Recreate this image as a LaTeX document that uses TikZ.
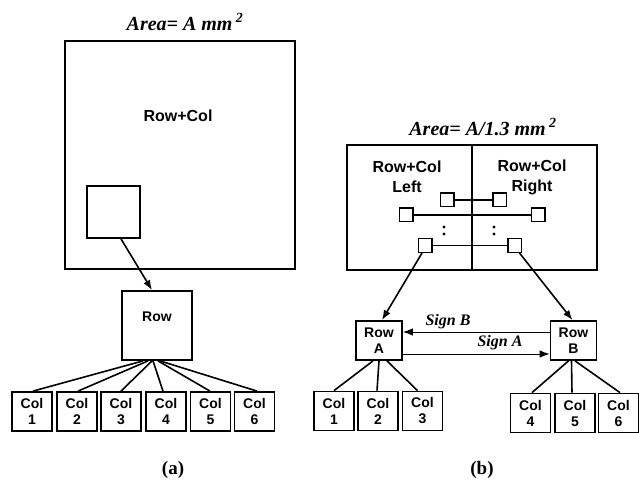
\documentclass[tikz,border=0pt]{standalone}
\usepackage{fontspec}
\setmainfont{Liberation Sans}
\newfontfamily\timesf{Liberation Serif}
\usetikzlibrary{arrows.meta,calc}
\begin{document}
\begin{tikzpicture}[x=1bp,y=-1bp,
  box/.style={draw,line width=1.8bp,inner sep=0pt,align=center,font=\bfseries\fontsize{14bp}{16bp}\selectfont},
  sq/.style={draw,line width=1.5bp,inner sep=0pt,minimum width=13.5bp,minimum height=13.5bp},
  colbox/.style={box,minimum width=40bp,minimum height=39bp},
  conn/.style={line width=1.6bp},
  arr/.style={line width=1.6bp,-{Latex[length=10bp,width=7.5bp]}},
  sig/.style={line width=1bp,-{Latex[length=10bp,width=7.5bp]}},
  big/.style={font=\bfseries\fontsize{16bp}{20bp}\selectfont,align=center,inner sep=0pt},
  ttl/.style={font=\timesf\bfseries\itshape\fontsize{20bp}{24bp}\selectfont,inner sep=0pt},
  sgn/.style={font=\timesf\bfseries\itshape\fontsize{16bp}{18bp}\selectfont,inner sep=0pt},
  captxt/.style={font=\timesf\bfseries\fontsize{19bp}{22bp}\selectfont,inner sep=0pt}]
\useasboundingbox (0,0) rectangle (639,480);

% ---------- (a) ----------
\node[ttl] (ta) at (185,22) {Area= A mm\,\raisebox{1bp}{\textsuperscript{2}}};
\node[box,minimum width=230bp,minimum height=228bp] (biga) at (180,155) {};
\node[big] (rca) at (178,116) {Row+Col};
\node[box,minimum width=53bp,minimum height=52bp] (smalla) at (113.5,212) {};
\node[box,minimum width=70bp,minimum height=69bp] (rowa) at (157,325.5) {};
\node[big,font=\bfseries\fontsize{14bp}{16bp}\selectfont] (rowatxt) at (157,317) {Row};
\foreach \i/\cx in {1/32,2/77,3/121,4/166,5/210.5,6/254.5}{
  \node[colbox] (ca\i) at (\cx,411.5) {Col\\\i};
}
\draw[arr] ([xshift=7.5bp]smalla.south) -- ([xshift=-5bp]rowa.north);
\foreach \i/\dx/\ex in {1/-14/1,2/-9/1,3/-5/0,4/-4/-3,5/1/-0.5,6/3/2.5}{
  \draw[conn] ([xshift=\dx bp]rowa.south) -- ([xshift=\ex bp]ca\i.north);
}
\node[captxt] (capa) at (173,470) {(a)};

% ---------- (b) ----------
\node[ttl] (tb) at (483,127) {Area= A/1.3 mm\,\raisebox{1bp}{\textsuperscript{2}}};
\node[box,minimum width=125bp,minimum height=125bp] (bl) at (409.5,207.5) {};
\node[box,minimum width=125bp,minimum height=125bp] (br) at (534.5,207.5) {};
\node[big] (tl) at (407,177) {Row+Col\\Left};
\node[big] (tr) at (532,177) {Row+Col\\Right};
\node[sq,fill=white] (s1) at (447,200) {};
\node[sq,fill=white] (s2) at (499.5,200) {};
\node[sq,fill=white] (s3) at (406,215) {};
\node[sq,fill=white] (s4) at (538,215) {};
\node[sq,fill=white] (s5) at (425,245.5) {};
\node[sq,fill=white] (s6) at (514.5,245.5) {};
\draw[conn] (s1) -- (s2);
\draw[conn] (s3) -- (s4);
\draw[conn] (s5) -- (s6);
\foreach \px in {444,494}{
  \fill (\px,227) circle (1.6bp);
  \fill (\px,234) circle (1.6bp);
}
\node[box,minimum width=46bp,minimum height=39bp] (ra) at (379,340.5) {Row\\A};
\node[box,minimum width=46bp,minimum height=39bp] (rb) at (573.5,340.5) {Row\\B};
\draw[arr] ([xshift=-3bp]s5.south) -- ([xshift=3bp]ra.north);
\draw[arr] ([xshift=5bp]s6.south) -- ([xshift=-1bp]rb.north);
\draw[sig] ([yshift=8.5bp]rb.west) -- ([yshift=8.5bp]ra.east);
\draw[sig] ([yshift=-13.5bp]ra.east) -- ([yshift=-13.5bp]rb.west);
\node[sgn] (lsb) at (448,322) {Sign B};
\node[sgn] (lsa) at (500,343) {Sign A};
\foreach \i/\cx/\cy in {1/334/411,2/378/411,3/422.5/411,4/530.5/413,5/575/413,6/618.5/413}{
  \node[colbox] (cb\i) at (\cx,\cy) {Col\\\i};
}
\draw[conn] ([xshift=-6bp]ra.south) -- (cb1.north);
\draw[conn] (ra.south) -- ([xshift=-1bp]cb2.north);
\draw[conn] ([xshift=8bp]ra.south) -- ([xshift=-5bp]cb3.north);
\draw[conn] ([xshift=-5bp]rb.south) -- ([xshift=1.5bp]cb4.north);
\draw[conn] ([xshift=-2bp]rb.south) -- ([xshift=-3bp]cb5.north);
\draw[conn] ([xshift=1.5bp]rb.south) -- ([xshift=1.5bp]cb6.north);
\node[captxt] (capb) at (482,470) {(b)};
\end{tikzpicture}
\end{document}
